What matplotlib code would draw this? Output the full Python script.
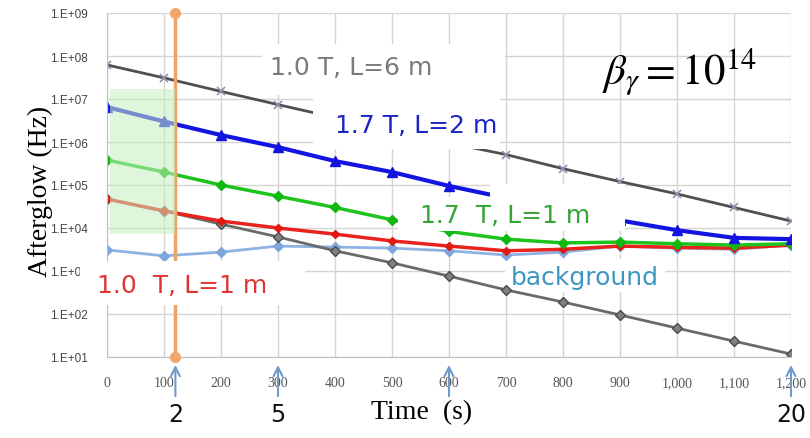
import math
import matplotlib
matplotlib.use("Agg")
import matplotlib.pyplot as plt
from matplotlib.patches import Rectangle
from matplotlib.ticker import FixedLocator, FuncFormatter, NullLocator

# ---------------- data ----------------
time_s = [0, 100, 200, 300, 400, 500, 600, 700, 800, 900, 1000, 1100, 1200]

t10_L6 = [6.2e7, 3.1e7, 1.5e7, 7.4e6, 3.7e6, 1.9e6, 9.5e5, 5.1e5, 2.4e5, 1.2e5, 6.2e4, 3.0e4, 1.45e4]
t17_L2 = [6.5e6, 3.0e6, 1.45e6, 7.6e5, 3.6e5, 2.0e5, 9.5e4, 5.0e4, 2.7e4, 1.5e4, 8.9e3, 5.9e3, 5.5e3]
t17_L1 = [3.8e5, 2.0e5, 1.0e5, 5.5e4, 3.0e4, 1.55e4, 8.3e3, 5.5e3, 4.5e3, 4.7e3, 4.3e3, 4.0e3, 4.3e3]
t10_L1 = [4.7e4, 2.5e4, 1.45e4, 1.0e4, 7.2e3, 5.0e3, 3.8e3, 2.95e3, 3.2e3, 3.8e3, 3.55e3, 3.4e3, 4.0e3]
background = [3.1e3, 2.25e3, 2.75e3, 3.8e3, 3.6e3, 3.4e3, 2.95e3, 2.35e3, 2.75e3, 3.8e3, 3.4e3, 3.2e3, 4.0e3]
decay = [4.7e4, 2.5e4, 1.23e4, 6.2e3, 2.95e3, 1.55e3, 760, 363, 190, 95, 47, 23.4, 11.7]

marker_time = 120
marker_span = [1e1, 1e9]
shade_time = [5, 120]
shade_span = [7.2e3, 1.7e7]

arrow_times = [120, 300, 600, 1200]
arrow_labels = ["2", "5", "", "20"]

x_ticks = [0, 100, 200, 300, 400, 500, 600, 700, 800, 900, 1000, 1100, 1200]
y_ticks = [1e1, 1e2, 1e3, 1e4, 1e5, 1e6, 1e7, 1e8, 1e9]

# ---------------- figure ----------------
plt.rcParams["mathtext.fontset"] = "stix"
fig = plt.figure(figsize=(8.1, 4.39), dpi=100)
ax = fig.add_axes([107 / 810, 1 - 358 / 439, 684 / 810, 344 / 439])
ax.set_yscale("log")
ax.set_xlim(0, 1200)
ax.set_ylim(1e1, 1e9)

ax.xaxis.set_major_locator(FixedLocator(x_ticks))
ax.yaxis.set_major_locator(FixedLocator(y_ticks))
ax.yaxis.set_minor_locator(NullLocator())
ax.xaxis.set_major_formatter(FuncFormatter(lambda v, p: f"{int(v):,}"))
ax.yaxis.set_major_formatter(FuncFormatter(lambda v, p: "1.E+%02d" % round(math.log10(v))))
ax.tick_params(axis="both", length=0)
ax.tick_params(axis="x", pad=14, labelsize=10, labelcolor="#555555")
ax.tick_params(axis="y", pad=14, labelsize=8.5, labelcolor="#444444")
for lab in ax.get_xticklabels():
    lab.set_family("Liberation Serif")
for lab in ax.get_yticklabels():
    lab.set_family("Liberation Sans")

ax.grid(True, color="#d4d4d4", lw=1.0, zorder=0)
ax.set_axisbelow(True)
for s in ["top", "right"]:
    ax.spines[s].set_visible(False)
for s in ["left", "bottom"]:
    ax.spines[s].set_color("#c0c0c0")

# series
ax.plot(time_s, background, color="#8db2e3", lw=2, marker="D", ms=5,
        mfc="#7ea6dc", mec="#7ea6dc", zorder=2.0)
ax.plot(time_s, decay, color="#6a6a6a", lw=2, marker="D", ms=5,
        mfc="#808080", mec="#4a4a4a", zorder=2.1)
ax.plot(time_s, t10_L1, color="#e8221c", lw=2.5, marker="D", ms=4.5,
        mfc="#e0180f", mec="#e0180f", zorder=2.2)
ax.plot(time_s, t17_L1, color="#1ec41e", lw=2.5, marker="D", ms=5,
        mfc="#12b812", mec="#12b812", zorder=2.3)
ax.plot(time_s, t17_L2, color="#1414e0", lw=3, marker="^", ms=7,
        mfc="#1414e0", mec="#1414e0", zorder=2.4)
ax.plot(time_s, t10_L6, color="#505050", lw=2, marker="x", ms=6,
        mec="#9090b0", mew=1.2, zorder=2.5)

# orange vertical marker
ax.plot([marker_time, marker_time], marker_span, color="#eba56a", lw=2.5,
        marker="o", ms=7, mfc="#f0a868", mec="#f0a868", clip_on=False, zorder=3)

# green shaded zone
ax.add_patch(Rectangle((shade_time[0], shade_span[0]), shade_time[1] - shade_time[0],
                       shade_span[1] - shade_span[0], facecolor="#c8f0c0",
                       edgecolor="none", alpha=0.55, zorder=3.5))

# white label boxes (axes fraction)
def wbox(x0, x1, y0, y1, z=4, clip=True):
    r = Rectangle((x0, y0), x1 - x0, y1 - y0, transform=ax.transAxes,
                  facecolor="white", edgecolor="none", zorder=z, clip_on=clip)
    ax.add_patch(r)

wbox(0.2266, 0.582, 0.762, 0.910)
wbox(0.301, 0.575, 0.605, 0.762)
wbox(0.425, 0.757, 0.366, 0.465)
wbox(0.560, 0.757, 0.366, 0.503)
wbox(-0.040, 0.289, 0.151, 0.279, z=5, clip=False)
wbox(0.582, 0.816, 0.189, 0.285, z=1.8)

lab_kw = dict(transform=ax.transAxes, ha="center", va="center", fontsize=18,
              family="DejaVu Sans", zorder=6)
ax.text(0.357, 0.843, "1.0 T, L=6 m", color="#7a7a7a", **lab_kw)
ax.text(0.452, 0.674, "1.7 T, L=2 m", color="#1c24c4", **lab_kw)
ax.text(0.582, 0.413, "1.7  T, L=1 m", color="#34a434", **lab_kw)
ax.text(0.110, 0.209, "1.0  T, L=1 m", color="#e03434", clip_on=False, **lab_kw)
ax.text(0.699, 0.233, "background", color="#3c97c0", **lab_kw)

ax.text((679 - 107) / 684, (358 - 72) / 344, r"$\beta_{\gamma}=10^{14}$",
        transform=ax.transAxes, ha="center", va="center", fontsize=31,
        color="black", zorder=6)

# axis labels
ax.text((40 - 107) / 684, 0.483, "Afterglow (Hz)", transform=ax.transAxes,
        rotation=90, ha="center", va="center", fontsize=20,
        family="Liberation Serif", color="black")
ax.text(0.46, -0.16, "Time  (s)", transform=ax.transAxes, ha="center",
        va="center", fontsize=20, family="Liberation Serif", color="black")

# arrows under axis
for t, lab in zip(arrow_times, arrow_labels):
    ax.annotate("", xy=(t, -0.015), xytext=(t, -0.122),
                xycoords=("data", "axes fraction"),
                textcoords=("data", "axes fraction"),
                arrowprops=dict(arrowstyle="->", color="#7099cc", lw=1.5,
                                mutation_scale=16), annotation_clip=False)
    if lab:
        ax.text(t, -0.166, lab, transform=ax.get_xaxis_transform(), ha="center",
                va="center", fontsize=17, family="DejaVu Sans", color="#111111",
                clip_on=False)

fig.savefig("out.png", dpi=100)
